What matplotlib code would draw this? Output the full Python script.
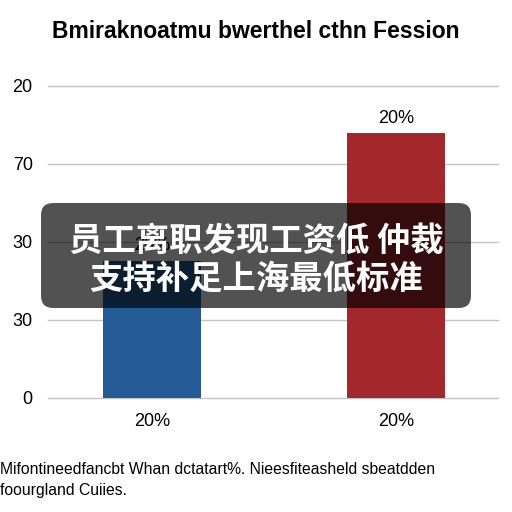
import matplotlib.pyplot as plt
from matplotlib.patches import FancyBboxPatch

# dados do gráfico
categorias = ['20%', '20%']
valores = [44, 85]
rotulos_barras = ['20%', '20%']
cores = ['#245b96', '#a3282b']
ticks_y = [0, 25, 50, 75, 100]
rotulos_y = ['0', '30', '30', '70', '20']

titulo = 'Bmiraknoatmu bwerthel cthn Fession'
nota = ['Mifontineedfancbt Whan dctatart%. Nieesfiteasheld sbeatdden',
        'foourgland Cuiies.']
faixa = ['员工离职发现工资低 仲裁', '支持补足上海最低标准']

fig = plt.figure(figsize=(5.12, 5.12), dpi=100)
ax = fig.add_axes([48 / 512, 1 - 398 / 512, 450 / 512, 312 / 512])

x = range(len(categorias))
ax.bar(x, valores, width=0.40, color=cores, zorder=3)
for xi, v, r in zip(x, valores, rotulos_barras):
    ax.text(xi, v + 2.0, r, ha='center', va='bottom', fontsize=13,
            family='Liberation Sans', zorder=4)

ax.set_xlim(-0.426, 1.418)
ax.set_ylim(0, 100)
ax.set_yticks(ticks_y)
ax.set_yticklabels(rotulos_y, fontsize=13, family='Liberation Sans')
ax.set_xticks(list(x))
ax.set_xticklabels(categorias, fontsize=13, family='Liberation Sans')
ax.tick_params(length=0, pad=11)
ax.yaxis.grid(True, color='#c4c4c4', linewidth=1, zorder=0)
for s in ax.spines.values():
    s.set_visible(False)
for gl in ax.get_ygridlines():
    gl.set_clip_on(False)

fig.text(0.5, 1 - 31 / 512, titulo, ha='center', va='center', fontsize=16.5,
         fontweight='bold', family='Liberation Sans')
fig.text(0.0, 1 - 470 / 512, nota[0], ha='left', va='center', fontsize=11.3,
         family='Liberation Sans')
fig.text(0.0, 1 - 490 / 512, nota[1], ha='left', va='center', fontsize=11.3,
         family='Liberation Sans')

# faixa escura com o título em chinês
caixa = FancyBboxPatch((41 / 512, 1 - 308 / 512), 430 / 512, 105 / 512,
                       boxstyle='round,pad=0,rounding_size=0.024',
                       transform=fig.transFigure, facecolor='black',
                       alpha=0.68, edgecolor='none', zorder=10)
fig.patches.append(caixa)
fig.text(0.5, 1 - 241 / 512, faixa[0], ha='center', va='center', fontsize=24,
         fontweight='bold', color='white', family=['Noto Sans CJK SC', 'DejaVu Sans'],
         zorder=11)
fig.text(0.5, 1 - 279 / 512, faixa[1], ha='center', va='center', fontsize=24,
         fontweight='bold', color='white', family=['Noto Sans CJK SC', 'DejaVu Sans'],
         zorder=11)

plt.savefig('out.png', dpi=100)
